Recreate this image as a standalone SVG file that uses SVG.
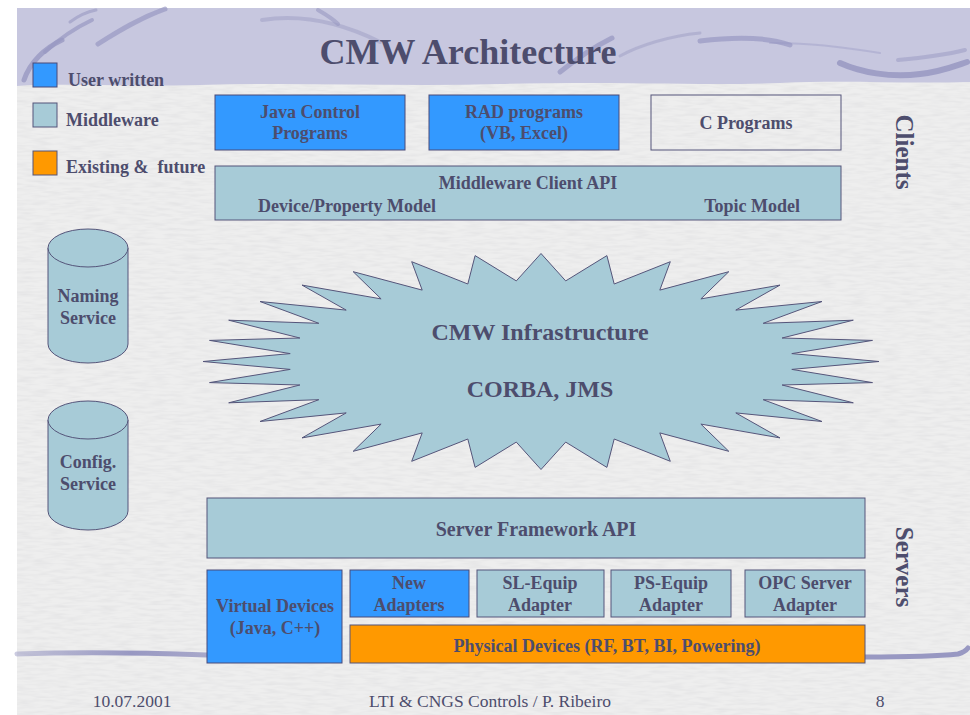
<svg xmlns="http://www.w3.org/2000/svg" width="970" height="715" viewBox="0 0 970 715">
  <style>
    .t{font-family:"Liberation Serif","Times New Roman",serif;font-weight:bold;fill:#4d4d6d;text-anchor:middle}
    .s18{font-size:18px}
    .s24{font-size:24px}
    .foot{font-family:"Liberation Serif","Times New Roman",serif;font-size:17.5px;fill:#4d4d6d;text-anchor:middle}
    .blue{fill:#3399ff;stroke:#4a4a78;stroke-width:1}
    .mw{fill:#a7cbd7;stroke:#55557a;stroke-width:1}
    .org{fill:#ff9900;stroke:#55557a;stroke-width:1}
    .plain{fill:none;stroke:#55557a;stroke-width:1}
    .sw{fill:none;stroke:#9898c2;stroke-linecap:round}
  </style>
  <defs>
    <filter id="grain" x="0" y="0" width="100%" height="100%">
      <feTurbulence type="fractalNoise" baseFrequency="0.06 0.35" numOctaves="2" seed="7"/>
      <feColorMatrix type="matrix" values="0 0 0 0 0.55  0 0 0 0 0.55  0 0 0 0 0.58  0.45 0 0 0 -0.17"/>
    </filter>
    <linearGradient id="fadeL" x1="0" y1="0" x2="1" y2="0">
      <stop offset="0" stop-color="#9898c2" stop-opacity="0.5"/>
      <stop offset="0.6" stop-color="#9898c2" stop-opacity="1"/>
      <stop offset="1" stop-color="#9898c2" stop-opacity="0.8"/>
    </linearGradient>
  </defs>

  <!-- slide background -->
  <rect width="970" height="715" fill="#ffffff"/>
  <rect x="17" y="8" width="953" height="707" fill="#eeeeee"/>
  <rect x="17" y="8" width="953" height="707" filter="url(#grain)"/>
  <path d="M17,8 H970 V82 C900,84 850,80 780,83 C700,86 600,81 500,84 C400,87 300,82 200,85 C120,87 60,83 17,86 Z" fill="#c7c7df"/>

  <!-- header swooshes -->
  <g id="decor">
    <path class="sw" d="M24,80 C30,62 45,48 62,40" stroke-width="5" opacity="0.8"/>
    <path class="sw" d="M45,52 C60,38 75,28 92,20" stroke-width="4" opacity="0.7"/>
    <path class="sw" d="M98,44 C120,30 140,18 165,9" stroke-width="5" opacity="0.7"/>
    <path class="sw" d="M70,22 C78,16 86,12 96,10" stroke-width="3" opacity="0.6"/>
    <path class="sw" d="M262,20 C300,14 340,22 380,42" stroke-width="4" opacity="0.45"/>
    <path class="sw" d="M318,10 C325,14 332,18 338,24" stroke-width="4" opacity="0.6"/>
    <path class="sw" d="M560,72 C575,60 592,48 612,38" stroke-width="5" opacity="0.75"/>
    <path class="sw" d="M620,56 C640,45 670,36 700,33" stroke-width="3" opacity="0.45"/>
    <path class="sw" d="M700,41 C740,36 770,38 790,45" stroke-width="5" opacity="0.7"/>
    <path class="sw" d="M770,43 C810,42 850,48 880,53" stroke-width="2" opacity="0.4"/>
    <path class="sw" d="M840,63 C860,72 890,78 920,74 C940,72 955,66 967,62" stroke-width="6" opacity="0.85"/>
    <path class="sw" d="M898,60 C920,58 945,55 965,50" stroke-width="4" opacity="0.5"/>
    <!-- footer rule -->
    <path d="M17,654 C80,652 150,653 207,655" fill="none" stroke="url(#fadeL)" stroke-width="5" stroke-linecap="round"/>
    <path class="sw" d="M865,657 C900,657 940,656 958,654 Q965,652 968,648" stroke-width="5"/>
  </g>

  <text class="t" x="468" y="64" font-size="36">CMW Architecture</text>

  <!-- legend -->
  <g id="legend">
    <rect class="blue" x="33" y="63" width="24" height="24"/>
    <text class="t s18" x="68" y="86" text-anchor="start" style="text-anchor:start">User written</text>
    <rect class="mw" x="33" y="103" width="24" height="24"/>
    <text class="t s18" x="66" y="126" style="text-anchor:start">Middleware</text>
    <rect class="org" x="33" y="151" width="24" height="24"/>
    <text class="t s18" x="66" y="173" style="text-anchor:start" xml:space="preserve">Existing &amp;  future</text>
  </g>

  <!-- client side -->
  <g id="java-control">
    <rect class="blue" x="215" y="95" width="190" height="55"/>
    <text class="t s18" x="310" y="118">Java Control</text>
    <text class="t s18" x="310" y="139">Programs</text>
  </g>
  <g id="rad-programs">
    <rect class="blue" x="429" y="95" width="190" height="55"/>
    <text class="t s18" x="524" y="118">RAD programs</text>
    <text class="t s18" x="524" y="139">(VB, Excel)</text>
  </g>
  <g id="c-programs">
    <rect class="plain" x="651" y="95" width="190" height="55"/>
    <text class="t s18" x="746" y="129">C Programs</text>
  </g>
  <g id="client-api">
    <rect class="mw" x="215" y="166" width="626" height="54"/>
    <text class="t s18" x="528" y="189">Middleware Client API</text>
    <text class="t s18" x="258" y="212" style="text-anchor:start">Device/Property Model</text>
    <text class="t s18" x="800" y="212" style="text-anchor:end">Topic Model</text>
  </g>
  <g id="clients-label">
    <text class="t" font-size="25" transform="translate(896,152) rotate(90)">Clients</text>
  </g>

  <!-- services -->
  <g id="naming-service">
    <path class="mw" d="M48,248 V344 A40,19 0 0 0 128,344 V248"/>
    <ellipse class="mw" cx="88" cy="248" rx="40" ry="19"/>
    <text class="t s18" x="88" y="302">Naming</text>
    <text class="t s18" x="88" y="324">Service</text>
  </g>
  <g id="config-service">
    <path class="mw" d="M48,420 V511 A40,19 0 0 0 128,511 V420"/>
    <ellipse class="mw" cx="88" cy="420" rx="40" ry="19"/>
    <text class="t s18" x="88" y="468">Config.</text>
    <text class="t s18" x="88" y="490">Service</text>
  </g>

  <!-- infrastructure -->
  <g id="infrastructure">
    <polygon class="mw" transform="translate(541,361.5)" points="338,0 250.8,-7.9 331.5,-21.1 241.1,-23.5 312.3,-41.3 222.2,-38.2 281,-60 194.8,-51.4 239,-76.4 159.9,-62.6 187.8,-89.8 118.8,-71.4 129.3,-99.8 73.2,-77.5 65.9,-105.9 24.7,-80.6 0,-108 -24.7,-80.6 -65.9,-105.9 -73.2,-77.5 -129.3,-99.8 -118.8,-71.4 -187.8,-89.8 -159.9,-62.6 -239,-76.4 -194.8,-51.4 -281,-60 -222.2,-38.2 -312.3,-41.3 -241.1,-23.5 -331.5,-21.1 -250.8,-7.9 -338,0 -250.8,7.9 -331.5,21.1 -241.1,23.5 -312.3,41.3 -222.2,38.2 -281,60 -194.8,51.4 -239,76.4 -159.9,62.6 -187.8,89.8 -118.8,71.4 -129.3,99.8 -73.2,77.5 -65.9,105.9 -24.7,80.6 0,108 24.7,80.6 65.9,105.9 73.2,77.5 129.3,99.8 118.8,71.4 187.8,89.8 159.9,62.6 239,76.4 194.8,51.4 281,60 222.2,38.2 312.3,41.3 241.1,23.5 331.5,21.1 250.8,7.9"/>
    <text class="t s24" x="540" y="340">CMW Infrastructure</text>
    <text class="t s24" x="540" y="397">CORBA, JMS</text>
  </g>

  <!-- server side -->
  <g id="server-api">
    <rect class="mw" x="207" y="498" width="658" height="60"/>
    <text class="t" font-size="20" x="536" y="536">Server Framework API</text>
  </g>
  <g id="virtual-devices">
    <rect class="blue" x="207" y="570" width="135" height="93"/>
    <text class="t s18" x="275" y="612">Virtual Devices</text>
    <text class="t s18" x="275" y="634">(Java, C++)</text>
  </g>
  <g id="new-adapters">
    <rect class="blue" x="350" y="570" width="119" height="47"/>
    <text class="t s18" x="409" y="589">New</text>
    <text class="t s18" x="409" y="611">Adapters</text>
  </g>
  <g id="sl-equip">
    <rect class="mw" x="477" y="570" width="127" height="47"/>
    <text class="t s18" x="540" y="589">SL-Equip</text>
    <text class="t s18" x="540" y="611">Adapter</text>
  </g>
  <g id="ps-equip">
    <rect class="mw" x="611" y="570" width="120" height="47"/>
    <text class="t s18" x="671" y="589">PS-Equip</text>
    <text class="t s18" x="671" y="611">Adapter</text>
  </g>
  <g id="opc-server">
    <rect class="mw" x="745" y="570" width="120" height="47"/>
    <text class="t s18" x="805" y="589">OPC Server</text>
    <text class="t s18" x="805" y="611">Adapter</text>
  </g>
  <g id="physical-devices">
    <rect class="org" x="350" y="625" width="515" height="38"/>
    <text class="t s18" x="607" y="652">Physical Devices (RF, BT, BI, Powering)</text>
  </g>
  <g id="servers-label">
    <text class="t" font-size="25" transform="translate(896,567) rotate(90)">Servers</text>
  </g>

  <g id="connectors"/>

  <!-- footer -->
  <text class="foot" x="132" y="707">10.07.2001</text>
  <text class="foot" x="490" y="707">LTI &amp; CNGS Controls / P. Ribeiro</text>
  <text class="foot" x="880" y="707">8</text>
</svg>
